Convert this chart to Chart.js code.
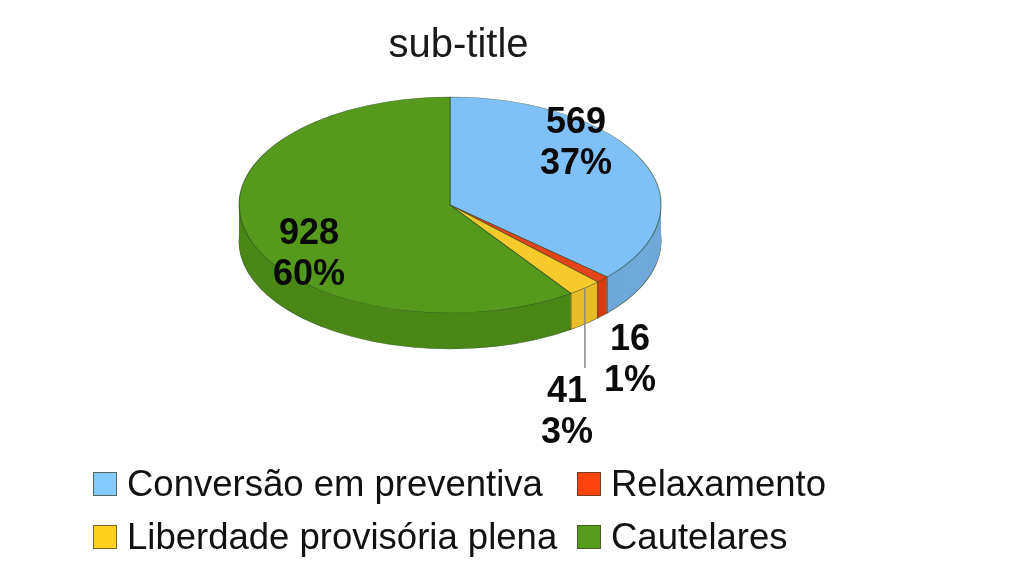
<!DOCTYPE html>
<html lang="pt">
<head>
<meta charset="utf-8">
<title>sub-title</title>
<script src="https://cdn.jsdelivr.net/npm/chart.js@4"></script>
<style>
    html, body { margin: 0; padding: 0; background: #fff; }
    #wrap { position: relative; width: 1024px; height: 562px; overflow: hidden; }
    #legend {
        position: absolute; left: 93px; top: 457px;
        display: grid; grid-template-columns: 484px auto; grid-auto-rows: 53px;
        font: 36.5px "Liberation Sans", Arial, sans-serif; color: #111;
    }
    #legend div { display: flex; align-items: center; white-space: nowrap; }
    #legend i {
        display: block; width: 22px; height: 22px; margin-right: 10px;
        border: 1px solid rgba(60, 60, 40, 0.7);
    }
</style>
</head>
<body>
<div id="wrap">
    <canvas id="chart" width="1024" height="562"></canvas>
    <div id="legend"></div>
</div>
<script>
// data
const categories = ['Conversão em preventiva', 'Relaxamento', 'Liberdade provisória plena', 'Cautelares'];
const counts = [569, 16, 41, 928];
const percents = ['37%', '1%', '3%', '60%'];
const chartTitle = 'sub-title';

// colours
const topColors = ['#7fc0f7', '#e5431a', '#f6ca2a', '#559a1c'];
const sideColors = ['#6fa9d9', '#d93c12', '#e8bd28', '#4a8718'];
const swatchColors = ['#83caff', '#ff420e', '#ffd320', '#579d1c'];

// geometry of the tilted pie
const pieX = 450, pieY = 205, pieRx = 211, pieRy = 108, pieDepth = 36;
const leaderIndex = 2, leaderEndY = 368;
const labelSpots = [[576, 123], [630, 340], [567, 392], [309, 234]];

// squash the round pie into an ellipse, shifted down by "drop" pixels
const tilt = (ctx, arc, drop) => {
    ctx.translate(pieX, pieY + drop);
    ctx.scale(pieRx / arc.outerRadius, pieRy / arc.outerRadius);
    ctx.translate(-arc.x, -arc.y);
};

const rimPoint = (angle, drop) => ({
    x: pieX + pieRx * Math.cos(angle),
    y: pieY + drop + pieRy * Math.sin(angle)
});

const pie3d = {
    id: 'pie3d',
    beforeDatasetsDraw(chart) {
        const ctx = chart.ctx;
        const arcs = chart.getDatasetMeta(0).data;

        // side wall: stack of darker copies of the slices
        for (let drop = pieDepth; drop > 0; drop--) {
            arcs.forEach((arc, i) => {
                const saved = arc.options;
                arc.options = Object.assign({}, saved, {
                    backgroundColor: sideColors[i],
                    borderColor: drop === pieDepth ? 'rgba(50, 70, 40, 0.7)' : sideColors[i],
                    borderWidth: drop === pieDepth ? 1 : 0
                });
                ctx.save();
                tilt(ctx, arc, drop);
                arc.draw(ctx);
                ctx.restore();
                arc.options = saved;
            });
        }

        // vertical edges where slices meet on the front of the wall
        ctx.save();
        ctx.strokeStyle = 'rgba(70, 70, 30, 0.75)';
        ctx.lineWidth = 1;
        arcs.forEach(arc => {
            const a = rimPoint(arc.endAngle, 0);
            if (Math.sin(arc.endAngle) <= 0) return;
            const b = rimPoint(arc.endAngle, pieDepth);
            ctx.beginPath();
            ctx.moveTo(a.x, a.y);
            ctx.lineTo(b.x, b.y);
            ctx.stroke();
        });
        ctx.restore();

        ctx.save();
        tilt(ctx, arcs[0], 0);
    },
    afterDatasetsDraw(chart) {
        const ctx = chart.ctx;
        const arcs = chart.getDatasetMeta(0).data;
        ctx.restore();

        // leader line of the thin yellow slice
        const mid = (arcs[leaderIndex].startAngle + arcs[leaderIndex].endAngle) / 2;
        const p = rimPoint(mid, 0);
        ctx.save();
        ctx.strokeStyle = '#8a8a86';
        ctx.lineWidth = 1.5;
        ctx.beginPath();
        ctx.moveTo(p.x, p.y);
        ctx.lineTo(p.x, leaderEndY);
        ctx.stroke();

        // value labels
        ctx.fillStyle = '#0a0a0a';
        ctx.font = 'bold 36px "Liberation Sans", Arial, sans-serif';
        ctx.textAlign = 'center';
        ctx.textBaseline = 'middle';
        labelSpots.forEach(([x, y], i) => {
            ctx.fillText(String(counts[i]), x, y);
            ctx.fillText(percents[i], x, y + 41);
        });
        ctx.restore();
    }
};

new Chart(document.getElementById('chart'), {
    type: 'pie',
    data: {
        labels: categories,
        datasets: [{
            data: counts,
            backgroundColor: topColors,
            borderColor: 'rgba(40, 70, 40, 0.65)',
            borderWidth: 1,
            clip: false
        }]
    },
    options: {
        responsive: false,
        animation: false,
        devicePixelRatio: 1,
        radius: 200,
        layout: { padding: { top: 22, right: 107, bottom: 0, left: 0 } },
        plugins: {
            legend: { display: false },
            tooltip: { enabled: false },
            title: {
                display: true,
                text: chartTitle,
                color: '#1a1a1a',
                font: { family: '"Liberation Sans", Arial, sans-serif', size: 40, weight: 'normal' },
                padding: 0
            }
        }
    },
    plugins: [pie3d]
});

// legend in two columns
const legend = document.getElementById('legend');
categories.forEach((name, i) => {
    const item = document.createElement('div');
    const box = document.createElement('i');
    box.style.background = swatchColors[i];
    item.appendChild(box);
    item.appendChild(document.createTextNode(name));
    legend.appendChild(item);
});
</script>
</body>
</html>
